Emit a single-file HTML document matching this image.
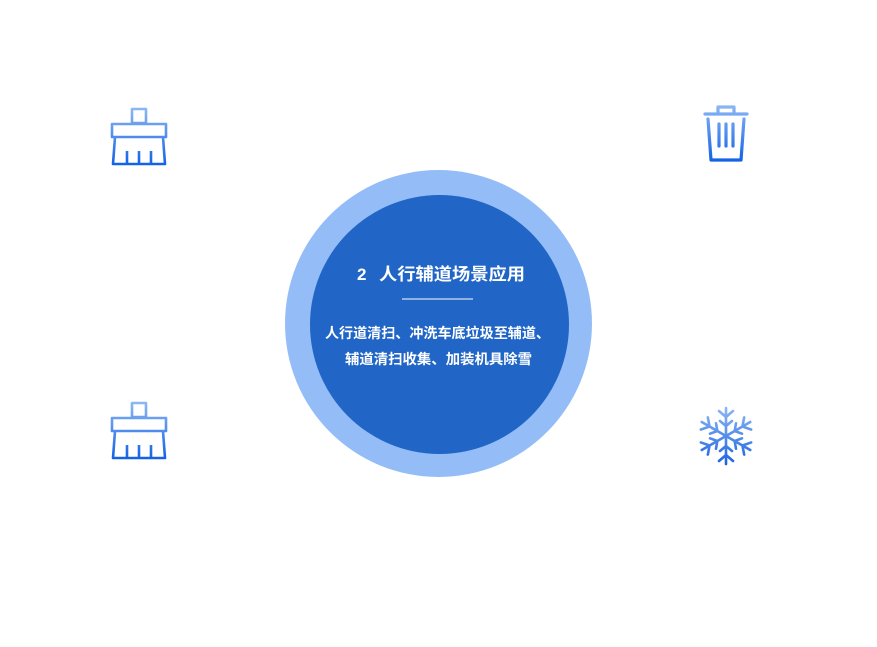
<!DOCTYPE html>
<html><head><meta charset="utf-8"><style>
html,body{margin:0;padding:0;background:#fff;width:877px;height:647px;overflow:hidden}
svg{display:block}
</style></head><body>
<svg width="877" height="647" viewBox="0 0 877 647" xmlns="http://www.w3.org/2000/svg">
<defs>
<linearGradient id="gb1" gradientUnits="userSpaceOnUse" x1="0" y1="107" x2="0" y2="166">
<stop offset="0" stop-color="#8fb9f5"/><stop offset="1" stop-color="#1060e6"/>
</linearGradient>
<linearGradient id="gb2" gradientUnits="userSpaceOnUse" x1="0" y1="401" x2="0" y2="460">
<stop offset="0" stop-color="#8fb9f5"/><stop offset="1" stop-color="#1060e6"/>
</linearGradient>
<linearGradient id="gt" gradientUnits="userSpaceOnUse" x1="0" y1="104" x2="0" y2="162">
<stop offset="0" stop-color="#8fb9f5"/><stop offset="1" stop-color="#1060e6"/>
</linearGradient>
<linearGradient id="gs" gradientUnits="userSpaceOnUse" x1="0" y1="406" x2="0" y2="466">
<stop offset="0" stop-color="#8fb9f5"/><stop offset="1" stop-color="#1a62e0"/>
</linearGradient>
<mask id="sm">
<g fill="none" stroke="#fff" stroke-width="2.6" stroke-linecap="round" transform="translate(726,436)">
<path id="arm" d="M0 0 V-28 M-7 -25 L0 -19 L7 -25 M-6 -15 L0 -10 L6 -15"/>
<use href="#arm" transform="rotate(60)"/>
<use href="#arm" transform="rotate(120)"/>
<use href="#arm" transform="rotate(180)"/>
<use href="#arm" transform="rotate(240)"/>
<use href="#arm" transform="rotate(300)"/>
</g>
</mask>
</defs>
<circle cx="438.5" cy="323.5" r="153.5" fill="#94bdf7"/>
<circle cx="439.5" cy="324.5" r="129.5" fill="#2166c6"/>
<g font-family="'Liberation Sans','Noto Sans CJK SC',sans-serif" fill="#fff" font-weight="bold">
<text x="357" y="280" font-size="17">2</text>
<text x="379" y="280" font-size="17" textLength="146" lengthAdjust="spacingAndGlyphs">人行辅道场景应用</text>
<text x="325" y="338" font-size="14" textLength="225" lengthAdjust="spacingAndGlyphs">人行道清扫、冲洗车底垃圾至辅道、</text>
<text x="345" y="364" font-size="14" textLength="187" lengthAdjust="spacingAndGlyphs">辅道清扫收集、加装机具除雪</text>
</g>
<line x1="402" y1="299" x2="473" y2="299" stroke="#fff" stroke-width="1"/>

<g fill="none" stroke="url(#gb1)" stroke-width="2.6" stroke-linejoin="round">
<rect x="132" y="109" width="14" height="14"/>
<rect x="112" y="124" width="54" height="13"/>
<path d="M115 137 L113 164 L165 164 L163 137"/>
<path d="M127 164 V151 M139 164 V151 M151 164 V151"/>
</g>
<g fill="none" stroke="url(#gb2)" stroke-width="2.6" stroke-linejoin="round">
<rect x="132" y="403" width="14" height="14"/>
<rect x="112" y="418" width="54" height="13"/>
<path d="M115 431 L113 458 L165 458 L163 431"/>
<path d="M127 458 V445 M139 458 V445 M151 458 V445"/>
</g>

<g fill="none" stroke="url(#gt)" stroke-width="3.2" stroke-linejoin="round" stroke-linecap="round">
<path d="M718 112 V107 H734 V112"/>
<path d="M705 114 H747"/>
<path d="M708 119 L711 160 H741 L744 119"/>
<path d="M719 124 V146 M726 124 V146 M733 124 V146"/>
</g>

<rect x="690" y="400" width="72" height="72" fill="url(#gs)" mask="url(#sm)"/>
</svg>
</body></html>
